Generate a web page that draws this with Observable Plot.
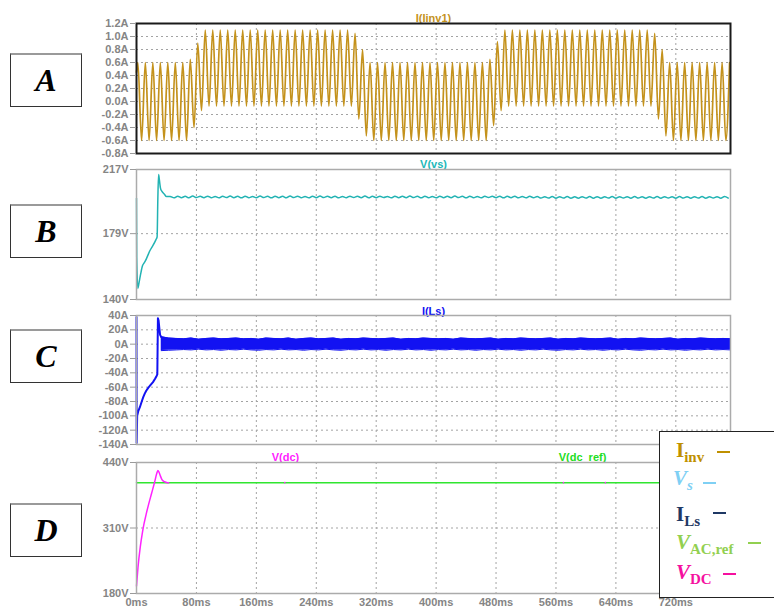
<!DOCTYPE html>
<html><head><meta charset="utf-8">
<script src="https://cdn.jsdelivr.net/npm/d3@7"></script>
<script src="https://cdn.jsdelivr.net/npm/@observablehq/plot@0.6"></script>
<style>
body{margin:0;background:#fff;}
#wrap{position:relative;width:774px;height:610px;overflow:hidden;font-family:"Liberation Sans",Arial,sans-serif;}
.panel{position:absolute;left:0;}
.panel svg{overflow:visible;}
.lab{position:absolute;left:10px;width:70px;height:51px;border:1px solid #333;border-top:2px solid #9a9a9a;background:#fff;
  font:italic bold 32px "Liberation Serif",serif;display:flex;align-items:center;justify-content:center;color:#000;z-index:5;}
#legend{position:absolute;left:659px;top:431px;width:130px;height:165px;border:1px solid #222;background:#fff;z-index:5;}
.lg{position:absolute;font:bold 21px/21px "Liberation Serif",serif;white-space:nowrap;z-index:6;}
.lg i{font-style:italic;}
.lg sub{font-size:15px;line-height:0;vertical-align:-5px;}
.dash{position:absolute;width:13px;height:2px;z-index:6;}
</style></head>
<body><div id="wrap"></div>
<script>
// ---- shared x axis ----
const xTicks = [0,80,160,240,320,400,480,560,640,720];
const xDomain = [0, 793];

// ---- Panel A : I(Iinv1) ----
const aTicks = [-0.8,-0.6,-0.4,-0.2,0,0.2,0.4,0.6,0.8,1.0,1.2];
const iinvStart = 0.45;
const iinvFirstPeakMs = 1.8;
const iinvCycleMs = 10;
const iinvPeaks = [0.6,0.6,0.6,0.6,0.6,0.6,0.6,0.65,0.9,
  1.1,1.1,1.1,1.1,1.1,1.1,1.1,1.1,1.1,1.1,1.1,1.1,1.1,1.1,1.1,1.1,1.1,1.1,1.1,1.1,
  1.05,0.8,
  0.6,0.6,0.6,0.6,0.6,0.6,0.6,0.6,0.6,0.6,0.6,0.6,0.6,0.6,0.6,0.6,
  0.65,0.92,
  1.1,1.1,1.1,1.1,1.1,1.1,1.1,1.1,1.1,1.1,1.1,1.1,1.1,1.1,1.1,1.1,1.1,1.1,1.1,1.1,
  1.05,0.8,
  0.6,0.6,0.6,0.6,0.6,0.6,0.6,0.6,0.6];
const iinvTroughs = [-0.6,-0.6,-0.6,-0.6,-0.6,-0.6,-0.6,-0.4,-0.14,
  -0.07,-0.07,-0.07,-0.07,-0.07,-0.07,-0.07,-0.07,-0.07,-0.07,-0.07,-0.07,-0.07,-0.07,-0.07,-0.07,-0.07,-0.07,-0.07,-0.07,
  -0.27,-0.53,
  -0.6,-0.6,-0.6,-0.6,-0.6,-0.6,-0.6,-0.6,-0.6,-0.6,-0.6,-0.6,-0.6,-0.6,-0.6,-0.6,
  -0.37,-0.14,
  -0.07,-0.07,-0.07,-0.07,-0.07,-0.07,-0.07,-0.07,-0.07,-0.07,-0.07,-0.07,-0.07,-0.07,-0.07,-0.07,-0.07,-0.07,-0.07,-0.07,
  -0.27,-0.53,
  -0.6,-0.6,-0.6,-0.6,-0.6,-0.6,-0.6,-0.6];

// ---- Panel B : V(vs) ----
const bTicks = [140,179,217];
const vsTransT = [0,0.3,1.8,3,5.5,8,10,12,15,18,22,26,27.5,28.5,29.5,30.5,32,34,37,40];
const vsTransV = [200,165,146.5,149,155,160,161.5,163,166,169,172,175.5,177,200,214,211,206,204,202.5,201];
const vsSteadyStartMs = 45;
const vsSteadyStepMs = 5;
const vsSteady = [
201.0,200.2,201.2,200.3,201.1,200.2,201.3,200.4,201.1,200.3,
201.2,200.3,201.0,200.2,201.2,200.4,201.3,200.3,201.1,200.2,
201.2,200.3,201.0,200.3,201.3,200.4,201.1,200.2,201.2,200.3,
201.1,200.2,201.3,200.4,201.2,200.3,201.0,200.2,201.2,200.3,
201.3,200.4,201.1,200.3,201.2,200.2,201.0,200.3,201.2,200.4,
201.1,200.3,201.3,200.2,201.1,200.3,201.2,200.4,201.0,200.2,
201.2,200.3,201.1,200.3,201.3,200.4,201.1,200.2,201.2,200.3,
201.0,200.2,201.2,200.3,201.1,200.3,201.3,200.4,201.1,200.2,
201.2,200.3,201.0,200.2,201.2,200.4,201.1,200.3,201.2,200.2,
201.1,200.3,201.2,200.2,201.0,200.2,201.1,200.3,201.0,200.1,
200.9,200.1,201.0,200.0,200.9,200.1,201.0,200.0,200.8,200.0,
200.9,200.1,201.0,200.0,200.9,200.0,200.8,200.1,201.0,200.0,
200.9,200.1,200.9,200.0,201.0,200.1,200.8,200.0,200.9,200.1,
201.0,200.0,200.9,200.1,200.8,200.0,201.0,200.1,200.9,200.0,
200.9,200.1,201.0,200.0,200.8,200.1,200.9,200.0,201.0,200.1];

// ---- Panel C : I(Ls) ----
const cTicks = [-140,-120,-100,-80,-60,-40,-20,0,20,40];
const ilsTransT = [0,0.2,0.9,2.5,4.5,7,9,11,13,15.6,18,22,25,27,27.8,28.6,29.5,30.5,31.5,33];
const ilsTransV = [38,-138,-100,-93,-88,-80,-74,-69,-65,-61,-58,-53,-48,-44,-42,36,33,22,13,10];
const ilsBandStartMs = 33;
const ilsBandStepMs = 10;
const ilsBandHi = [10.5,8.5,8.0,7.5,8.5,7.0,8.0,8.5,7.5,8.0,
 8.5,7.5,8.0,7.0,8.5,8.0,7.5,8.5,7.0,8.0,
 8.5,7.5,8.0,8.5,7.0,8.0,7.5,8.5,8.0,7.5,
 8.0,8.5,7.0,8.0,7.5,8.5,8.0,7.5,8.0,7.0,
 8.5,8.0,7.5,8.0,8.5,7.0,8.0,7.5,8.5,8.0,
 7.5,8.0,8.5,7.0,8.0,7.5,8.5,8.0,7.5,8.0,
 8.5,7.0,8.0,7.5,8.5,8.0,7.5,8.0,8.5,7.0,
 8.0,7.5,8.5,8.0,7.5,8.0,7.5];
const ilsBandLo = [-9.0,-8.5,-8.0,-7.5,-8.0,-7.0,-8.0,-7.5,-8.5,-7.5,
 -8.0,-7.0,-8.0,-8.5,-7.5,-8.0,-7.0,-8.0,-7.5,-8.5,
 -7.5,-8.0,-7.0,-8.0,-8.5,-7.5,-8.0,-7.0,-8.0,-7.5,
 -8.5,-7.5,-8.0,-7.0,-8.0,-7.5,-8.5,-7.5,-8.0,-7.0,
 -8.0,-7.5,-8.5,-7.5,-8.0,-7.0,-8.0,-7.5,-8.5,-7.5,
 -8.0,-7.0,-8.0,-8.5,-7.5,-8.0,-7.0,-8.0,-7.5,-8.5,
 -7.5,-8.0,-7.0,-8.0,-8.5,-7.5,-8.0,-7.0,-8.0,-7.5,
 -8.5,-7.5,-8.0,-7.0,-8.0,-7.5,-8.0];

// ---- Panel D : V(dc), V(dc_ref) ----
const dTicks = [180,310,440];
const vdcT = [0,2,5,8,10,13,16,20,24,27,28.5,30,32,34,37,40,43];
const vdcV = [195,232,272,302,318,338,356,378,400,418,424,421,413,406,402,400.5,400];
const vdcRefT = [0,793];
const vdcRefV = [400,400];
const vdcSpeckT = [198,570,626];
const vdcSpeckV = [400,400,400];

// ---- legend / labels ----
const panelLetters = ["A","B","C","D"];

// ---------- build data tables ----------
const aData = [{t:0, v:iinvStart}];
iinvPeaks.forEach((p,k)=>{
  aData.push({t: iinvFirstPeakMs + k*iinvCycleMs, v: p});
  if (k < iinvTroughs.length) aData.push({t: iinvFirstPeakMs + iinvCycleMs/2 + k*iinvCycleMs, v: iinvTroughs[k]});
});
const bData = vsTransT.map((t,i)=>({t, v: vsTransV[i]}))
  .concat(vsSteady.map((v,i)=>({t: vsSteadyStartMs + i*vsSteadyStepMs, v})));
const cLine = ilsTransT.map((t,i)=>({t, v: ilsTransV[i]}));
const cBand = ilsBandHi.map((hi,i)=>({t: ilsBandStartMs + i*ilsBandStepMs, hi, lo: ilsBandLo[i]}));
const dDc = vdcT.map((t,i)=>({t, v: vdcV[i]}));
const dRef = vdcRefT.map((t,i)=>({t, v: vdcRefV[i]}));
const dSpeck = vdcSpeckT.map((t,i)=>({t, v: vdcSpeckV[i]}));

const wrap = document.getElementById("wrap");
const gridStyle = {stroke:"#a3a3a3", strokeOpacity:1, strokeDasharray:"2,3", strokeWidth:1};

function panel({top, mt, h, mb, yDomain, yTicks, yGrid, yFmt, marks, frameStroke, frameWidth, xAxis}) {
  const ms = [
    Plot.gridX(xTicks.slice(1), gridStyle),
    Plot.gridY(yGrid, gridStyle),
    ...marks,
    Plot.frame({stroke: frameStroke, strokeWidth: frameWidth}),
    Plot.axisY(yTicks, {tickFormat: yFmt, tickSize: 6, tickPadding: 2, stroke:"#9a9a9a", fill:"#858585", label: null})
  ];
  if (xAxis) ms.push(Plot.axisX(xTicks, {tickFormat: d => d + "ms", tickSize: 0, tickPadding: 5, fill:"#858585", label: null}));
  const svg = Plot.plot({
    width: 774, height: mt + h + mb,
    marginLeft: 136, marginRight: 44, marginTop: mt, marginBottom: mb,
    x: {domain: xDomain, axis: null, label: null},
    y: {domain: yDomain, axis: null, label: null},
    style: {fontFamily: '"Liberation Sans", Arial, sans-serif', fontSize: "11px", fontWeight: "bold", color: "#858585", background: "transparent", overflow: "visible"},
    marks: ms
  });
  const div = document.createElement("div");
  div.className = "panel";
  div.style.top = top + "px";
  div.appendChild(svg);
  wrap.appendChild(div);
}

const titleOpts = {fontWeight: "bold", fontSize: 11};

panel({top: 0, mt: 23, h: 130, mb: 4, yDomain: [-0.8, 1.2], yTicks: aTicks, yGrid: aTicks,
  yFmt: d => d.toFixed(1) + "A", frameStroke: "#1a1a1a", frameWidth: 2,
  marks: [
    Plot.line(aData, {x: "t", y: "v", stroke: "#c4921c", strokeWidth: 1.7, curve: "monotone-x"}),
    Plot.text(["I(Iinv1)"], {frameAnchor: "top", dy: -9, fill: "#c4921c", ...titleOpts})
  ]});

panel({top: 150, mt: 19, h: 130, mb: 4, yDomain: [140, 217], yTicks: bTicks, yGrid: [179],
  yFmt: d => d + "V", frameStroke: "#ababab", frameWidth: 1.5,
  marks: [
    Plot.line(bData, {x: "t", y: "v", stroke: "#22b3b3", strokeWidth: 1.5, curve: "monotone-x"}),
    Plot.text(["V(vs)"], {frameAnchor: "top", dy: -9, fill: "#22b8b8", ...titleOpts})
  ]});

panel({top: 296, mt: 19, h: 129, mb: 4, yDomain: [-140, 40], yTicks: cTicks, yGrid: cTicks,
  yFmt: d => d + "A", frameStroke: "#ababab", frameWidth: 1.5,
  marks: [
    Plot.areaY(cBand, {x: "t", y1: "lo", y2: "hi", fill: "#1212f2"}),
    Plot.line(cBand, {x: "t", y: "hi", stroke: "#1212f2", strokeWidth: 1}),
    Plot.line(cBand, {x: "t", y: "lo", stroke: "#1212f2", strokeWidth: 1}),
    Plot.line(cLine, {x: "t", y: "v", stroke: "#1212f2", strokeWidth: 2}),
    Plot.text(["I(Ls)"], {frameAnchor: "top", dy: -8, fill: "#1212f2", ...titleOpts})
  ]});

panel({top: 441, mt: 21, h: 131, mb: 17, yDomain: [180, 440], yTicks: dTicks, yGrid: [310],
  yFmt: d => d + "V", frameStroke: "#ababab", frameWidth: 1.5, xAxis: true,
  marks: [
    Plot.line(dRef, {x: "t", y: "v", stroke: "#2fe62f", strokeWidth: 1.5}),
    Plot.line(dDc, {x: "t", y: "v", stroke: "#ff22ff", strokeWidth: 1.5, curve: "monotone-x"}),
    Plot.dot(dSpeck, {x: "t", y: "v", r: 0.8, fill: "#ff22ff"}),
    Plot.text(["V(dc)"], {frameAnchor: "top", dy: -9, dx: -148, fill: "#ff22ff", ...titleOpts}),
    Plot.text(["V(dc_ref)"], {frameAnchor: "top", dy: -9, dx: 149, fill: "#22dd22", ...titleOpts})
  ]});

// label boxes
const labTops = [53, 204, 329, 503];
panelLetters.forEach((L, i) => {
  const d = document.createElement("div");
  d.className = "lab";
  d.style.top = labTops[i] + "px";
  d.textContent = L;
  wrap.appendChild(d);
});

// legend
const leg = document.createElement("div");
leg.id = "legend";
wrap.appendChild(leg);
const legendRows = [
  {html: 'I<sub>inv</sub>', color: "#bf9000", left: 676, top: 440, dl: 717, dt: 451},
  {html: '<i>V<sub>s</sub></i>', color: "#7fd0f4", left: 673, top: 468, dl: 703, dt: 482},
  {html: 'I<sub>Ls</sub>', color: "#1f3864", left: 676, top: 504, dl: 713, dt: 512},
  {html: '<i>V</i><sub>AC,ref</sub>', color: "#92d050", left: 676, top: 532, dl: 748, dt: 542},
  {html: '<i>V</i><sub>DC</sub>', color: "#f5109f", left: 676, top: 562, dl: 723, dt: 573}
];
legendRows.forEach(r => {
  const d = document.createElement("div");
  d.className = "lg";
  d.style.left = r.left + "px"; d.style.top = r.top + "px"; d.style.color = r.color;
  d.innerHTML = r.html;
  wrap.appendChild(d);
  const s = document.createElement("div");
  s.className = "dash";
  s.style.left = r.dl + "px"; s.style.top = r.dt + "px"; s.style.background = r.color;
  wrap.appendChild(s);
});
</script></body></html>
